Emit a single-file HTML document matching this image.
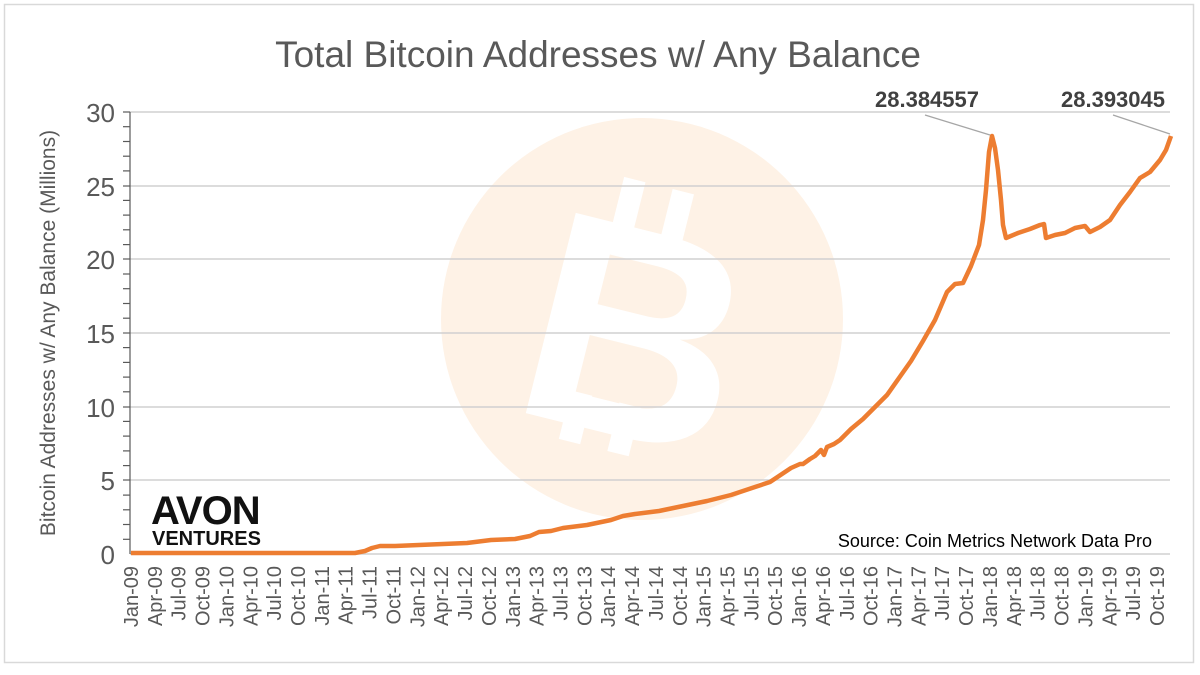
<!DOCTYPE html>
<html><head><meta charset="utf-8"><style>
html,body{margin:0;padding:0;background:#fff;}
svg{display:block;font-family:"Liberation Sans",sans-serif;}
</style></head><body>
<svg width="1200" height="675" viewBox="0 0 1200 675" xmlns="http://www.w3.org/2000/svg">
<rect x="4.5" y="4.5" width="1189" height="658" fill="#fff" stroke="#d9d9d9" stroke-width="1.5"/>
<text x="598" y="67" text-anchor="middle" font-size="37" fill="#595959">Total Bitcoin Addresses w/ Any Balance</text>
<circle cx="642" cy="319" r="201" fill="#fef2e6"/>
<g transform="rotate(14 640 320)" fill="#fff">
<rect x="590" y="185" width="22" height="50"/>
<rect x="640" y="185" width="22" height="50"/>
<rect x="590" y="405" width="22" height="50"/>
<rect x="640" y="405" width="22" height="50"/>
<text x="640" y="438" text-anchor="middle" font-size="300" font-weight="bold">B</text>
</g>
<g stroke="#d0d0d0" stroke-width="1.5">
<line x1="130" y1="112" x2="1170" y2="112"/>
<line x1="130" y1="186" x2="1170" y2="186"/>
<line x1="130" y1="259" x2="1170" y2="259"/>
<line x1="130" y1="333" x2="1170" y2="333"/>
<line x1="130" y1="407" x2="1170" y2="407"/>
<line x1="130" y1="480" x2="1170" y2="480"/>
<line x1="130" y1="554" x2="1170" y2="554"/>
</g>
<g stroke="#595959" stroke-width="1.2">
<line x1="130" y1="112" x2="130" y2="554"/>
<line x1="123" y1="112" x2="130" y2="112"/><line x1="123" y1="126.7" x2="130" y2="126.7"/><line x1="123" y1="141.5" x2="130" y2="141.5"/><line x1="123" y1="156.2" x2="130" y2="156.2"/><line x1="123" y1="170.9" x2="130" y2="170.9"/>
<line x1="123" y1="186" x2="130" y2="186"/><line x1="123" y1="200.4" x2="130" y2="200.4"/><line x1="123" y1="215.1" x2="130" y2="215.1"/><line x1="123" y1="229.8" x2="130" y2="229.8"/><line x1="123" y1="244.6" x2="130" y2="244.6"/>
<line x1="123" y1="259" x2="130" y2="259"/><line x1="123" y1="274" x2="130" y2="274"/><line x1="123" y1="288.7" x2="130" y2="288.7"/><line x1="123" y1="303.5" x2="130" y2="303.5"/><line x1="123" y1="318.2" x2="130" y2="318.2"/>
<line x1="123" y1="333" x2="130" y2="333"/><line x1="123" y1="347.6" x2="130" y2="347.6"/><line x1="123" y1="362.4" x2="130" y2="362.4"/><line x1="123" y1="377.1" x2="130" y2="377.1"/><line x1="123" y1="391.8" x2="130" y2="391.8"/>
<line x1="123" y1="407" x2="130" y2="407"/><line x1="123" y1="421.4" x2="130" y2="421.4"/><line x1="123" y1="436.1" x2="130" y2="436.1"/><line x1="123" y1="450.9" x2="130" y2="450.9"/><line x1="123" y1="465.6" x2="130" y2="465.6"/>
<line x1="123" y1="480" x2="130" y2="480"/><line x1="123" y1="495.1" x2="130" y2="495.1"/><line x1="123" y1="509.8" x2="130" y2="509.8"/><line x1="123" y1="524.5" x2="130" y2="524.5"/><line x1="123" y1="539.3" x2="130" y2="539.3"/>
</g>
<g font-size="26" fill="#595959" text-anchor="end">
<text x="115" y="122">30</text><text x="115" y="196">25</text><text x="115" y="269">20</text>
<text x="115" y="343">15</text><text x="115" y="417">10</text><text x="115" y="490">5</text><text x="115" y="564">0</text>
</g>
<text transform="translate(55 333) rotate(-90)" text-anchor="middle" font-size="21" fill="#595959">Bitcoin Addresses w/ Any Balance (Millions)</text>
<g id="xl" font-size="20" fill="#595959" text-anchor="end"></g>
<polyline fill="none" stroke="#ed7d31" stroke-width="4.5" stroke-linejoin="round" points="131,553 355,553 365,551 372,548 380,546 395,546 419,545 443,544 467,543 491,540 515,539 530,536 539,532 551,531 563,528 587,525 611,520 623,516 635,514 659,511 683,506 707,501 731,495 755,487 770,482 779,476 791,468 800,464 803,464 810,459 815,456 821,450 824,455 827,447 834,444 840,440 851,429 863,419 875,407 887,395 899,378 911,361 923,341 935,320 947,292 955,284 963,283 971,266 979,245 983,220 986,190 989,152 992,136 995,148 998,170 1001,200 1003,225 1006,238 1018,233 1030,229 1040,225 1044,224 1046,238 1055,235 1065,233 1075,228 1085,226 1090,232 1100,227 1110,220 1120,205 1130,192 1140,178 1150,172 1160,160 1166,150 1171,136"/>
<g stroke="#a6a6a6" stroke-width="1.3">
<line x1="925" y1="115" x2="990" y2="135"/>
<line x1="1113" y1="115" x2="1170" y2="134"/>
</g>
<g font-size="22" font-weight="bold" fill="#404040" text-anchor="middle">
<text x="927" y="107">28.384557</text><text x="1113" y="107">28.393045</text>
</g>
<text x="1152" y="547" text-anchor="end" font-size="18" fill="#000">Source: Coin Metrics Network Data Pro</text>
<g fill="#111" font-weight="bold">
<text x="151" y="524" font-size="40" letter-spacing="-1">AVON</text>
<text x="152" y="545" font-size="20">VENTURES</text>
</g>
</svg>
<script>
var g=document.getElementById('xl');var m=['Jan','Apr','Jul','Oct'];var s='';
for(var i=0;i<44;i++){var yr=9+Math.floor(i/4);var lab=m[i%4]+'-'+(yr<10?'0'+yr:yr);var x=131+i*23.86+7;
s+='<text transform="translate('+x.toFixed(1)+' 566) rotate(-90)">'+lab+'</text>';}
g.innerHTML=s;
</script>
</body></html>
